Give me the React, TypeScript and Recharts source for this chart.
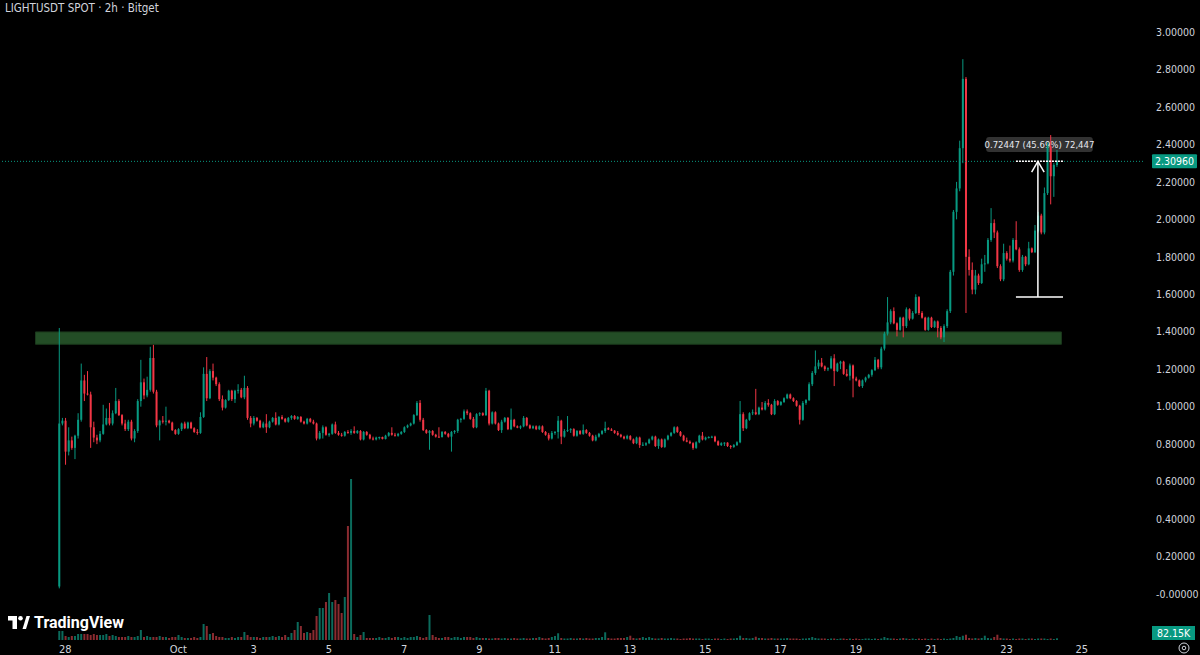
import React from 'react';
import {
    ComposedChart, Bar, XAxis, YAxis, ReferenceArea, ReferenceLine
} from 'recharts';

const UP = '#089981';
const DOWN = '#f23645';
const UP_VOL = '#0b6b5c';
const DOWN_VOL = '#8a2b30';
const TEXT = '#d1d4dc';
const FONT = "'Liberation Sans Narrow', 'DejaVu Sans Condensed', Roboto, sans-serif";

// 2h candles, [open, high, low, close]
const CANDLES: number[][] = [
    [0.04, 1.42, 0.03, 0.91], [0.91, 0.94, 0.90, 0.925], [0.925, 0.94, 0.69, 0.76], [0.76, 0.89, 0.74, 0.82],
    [0.82, 0.84, 0.77, 0.78], [0.78, 0.85, 0.72, 0.845], [0.845, 0.965, 0.83, 0.93], [0.93, 1.23, 0.92, 1.14],
    [1.14, 1.17, 1.03, 1.07], [1.07, 1.19, 1.06, 1.065], [1.065, 1.08, 0.78, 0.89], [0.89, 0.92, 0.81, 0.835],
    [0.835, 0.85, 0.80, 0.82], [0.82, 0.87, 0.81, 0.855], [0.855, 1.01, 0.85, 0.905], [0.905, 0.99, 0.90, 0.94],
    [0.94, 1.02, 0.90, 0.91], [0.91, 0.98, 0.90, 0.965], [0.965, 1.10, 0.96, 1.03], [1.03, 1.04, 0.95, 0.955],
    [0.955, 0.96, 0.90, 0.91], [0.91, 0.93, 0.87, 0.88], [0.88, 0.93, 0.87, 0.92], [0.92, 0.93, 0.82, 0.83],
    [0.83, 0.88, 0.81, 0.87], [0.87, 1.04, 0.86, 1.03], [1.03, 1.25, 1.00, 1.13], [1.13, 1.15, 1.04, 1.06],
    [1.06, 1.16, 1.05, 1.09], [1.09, 1.32, 1.08, 1.26], [1.26, 1.33, 1.07, 1.08], [1.08, 1.09, 0.89, 0.90],
    [0.90, 0.93, 0.82, 0.925], [0.925, 0.95, 0.91, 0.92], [0.92, 1.00, 0.90, 0.925], [0.925, 0.93, 0.91, 0.915],
    [0.915, 0.92, 0.87, 0.875], [0.875, 0.88, 0.85, 0.855], [0.855, 0.885, 0.85, 0.88], [0.88, 0.915, 0.87, 0.91],
    [0.91, 0.92, 0.88, 0.885], [0.885, 0.92, 0.88, 0.915], [0.915, 0.92, 0.88, 0.885], [0.885, 0.89, 0.86, 0.865],
    [0.865, 0.88, 0.85, 0.86], [0.86, 0.97, 0.855, 0.945], [0.945, 1.21, 0.94, 1.175], [1.175, 1.265, 1.03, 1.045],
    [1.045, 1.20, 1.04, 1.19], [1.19, 1.23, 1.14, 1.155], [1.155, 1.16, 1.11, 1.12], [1.12, 1.13, 1.03, 1.04],
    [1.04, 1.06, 0.98, 0.995], [0.995, 1.04, 0.99, 1.035], [1.035, 1.09, 1.03, 1.085],
    // Oct 2 - Oct 7
    [1.085, 1.09, 1.03, 1.04], [1.04, 1.09, 1.02, 1.085], [1.085, 1.12, 1.07, 1.09], [1.09, 1.10, 1.045, 1.05],
    [1.05, 1.165, 1.04, 1.10], [1.10, 1.11, 0.93, 0.94], [0.94, 0.95, 0.89, 0.91], [0.91, 0.95, 0.90, 0.94],
    [0.94, 0.945, 0.92, 0.925], [0.925, 0.93, 0.885, 0.89], [0.89, 0.92, 0.885, 0.91], [0.91, 0.96, 0.86, 0.89],
    [0.89, 0.925, 0.885, 0.92], [0.92, 0.945, 0.915, 0.94], [0.94, 0.97, 0.90, 0.905], [0.905, 0.95, 0.90, 0.945],
    [0.945, 0.955, 0.93, 0.935], [0.935, 0.94, 0.915, 0.92], [0.92, 0.945, 0.915, 0.94], [0.94, 0.955, 0.93, 0.95],
    [0.95, 0.955, 0.93, 0.935], [0.935, 0.95, 0.93, 0.945], [0.945, 0.95, 0.915, 0.92], [0.92, 0.925, 0.905, 0.91],
    [0.91, 0.94, 0.905, 0.935], [0.935, 0.94, 0.915, 0.92], [0.92, 0.93, 0.905, 0.91], [0.91, 0.915, 0.82, 0.83],
    [0.83, 0.87, 0.825, 0.86], [0.86, 0.90, 0.83, 0.89], [0.89, 0.895, 0.845, 0.85], [0.85, 0.86, 0.84, 0.855],
    [0.855, 0.91, 0.85, 0.905], [0.905, 0.92, 0.855, 0.86], [0.86, 0.87, 0.845, 0.85], [0.85, 0.86, 0.84, 0.845],
    [0.845, 0.87, 0.84, 0.865], [0.865, 0.875, 0.855, 0.86], [0.86, 0.88, 0.85, 0.87], [0.87, 0.895, 0.855, 0.86],
    [0.86, 0.875, 0.855, 0.87], [0.87, 0.875, 0.82, 0.825], [0.825, 0.87, 0.82, 0.865], [0.865, 0.87, 0.845, 0.85],
    [0.85, 0.855, 0.825, 0.83], [0.83, 0.84, 0.82, 0.825], [0.825, 0.84, 0.82, 0.835], [0.835, 0.84, 0.825, 0.838],
    [0.838, 0.84, 0.825, 0.828], [0.828, 0.85, 0.825, 0.845], [0.845, 0.865, 0.84, 0.86], [0.86, 0.89, 0.845, 0.85],
    [0.85, 0.86, 0.84, 0.845], [0.845, 0.86, 0.84, 0.855], [0.855, 0.87, 0.85, 0.865], [0.865, 0.895, 0.86, 0.89],
    [0.89, 0.905, 0.885, 0.90], [0.90, 0.915, 0.895, 0.91], [0.91, 0.96, 0.905, 0.955], [0.955, 1.03, 0.95, 1.02],
    [1.02, 1.035, 0.92, 0.93], [0.93, 0.94, 0.87, 0.875],
    // Oct 7 - Oct 13
    [0.875, 0.88, 0.855, 0.86], [0.86, 0.875, 0.77, 0.87], [0.87, 0.875, 0.845, 0.85], [0.85, 0.855, 0.835, 0.84],
    [0.84, 0.89, 0.835, 0.838], [0.838, 0.87, 0.835, 0.865], [0.865, 0.87, 0.85, 0.855], [0.855, 0.86, 0.835, 0.84],
    [0.84, 0.87, 0.76, 0.865], [0.865, 0.875, 0.855, 0.87], [0.87, 0.935, 0.86, 0.93], [0.93, 0.94, 0.915, 0.935],
    [0.935, 0.985, 0.93, 0.975], [0.975, 0.985, 0.955, 0.965], [0.965, 0.97, 0.93, 0.935], [0.935, 0.945, 0.885, 0.89],
    [0.89, 0.965, 0.885, 0.96], [0.96, 0.97, 0.95, 0.965], [0.965, 0.97, 0.95, 0.955], [0.955, 1.10, 0.95, 1.085],
    [1.085, 1.09, 0.90, 0.91], [0.91, 0.975, 0.905, 0.97], [0.97, 0.975, 0.905, 0.91], [0.91, 0.915, 0.87, 0.875],
    [0.875, 0.93, 0.86, 0.92], [0.92, 0.945, 0.915, 0.94], [0.94, 0.945, 0.875, 0.88], [0.88, 0.99, 0.875, 0.93],
    [0.93, 0.935, 0.89, 0.895], [0.895, 0.90, 0.885, 0.888], [0.888, 0.90, 0.88, 0.895], [0.895, 0.95, 0.89, 0.94],
    [0.94, 0.945, 0.895, 0.90], [0.90, 0.905, 0.88, 0.885], [0.885, 0.90, 0.88, 0.895], [0.895, 0.90, 0.875, 0.88],
    [0.88, 0.90, 0.875, 0.895], [0.895, 0.90, 0.86, 0.865], [0.865, 0.87, 0.845, 0.85], [0.85, 0.86, 0.82, 0.83],
    [0.83, 0.87, 0.825, 0.86], [0.86, 0.87, 0.85, 0.865], [0.865, 0.95, 0.83, 0.925], [0.925, 0.93, 0.80, 0.84],
    [0.84, 0.88, 0.835, 0.87], [0.87, 0.95, 0.865, 0.875], [0.875, 0.885, 0.86, 0.88], [0.88, 0.885, 0.84, 0.845],
    [0.845, 0.875, 0.84, 0.87], [0.87, 0.875, 0.85, 0.855], [0.855, 0.905, 0.85, 0.875], [0.875, 0.88, 0.855, 0.86],
    [0.86, 0.865, 0.84, 0.845], [0.845, 0.85, 0.815, 0.82], [0.82, 0.85, 0.815, 0.84], [0.84, 0.86, 0.835, 0.855],
    [0.855, 0.875, 0.85, 0.87], [0.87, 0.92, 0.86, 0.885], [0.885, 0.89, 0.875, 0.878], [0.878, 0.885, 0.87, 0.872],
    [0.872, 0.875, 0.855, 0.86], [0.86, 0.87, 0.845, 0.85], [0.85, 0.855, 0.835, 0.84],
    // Oct 13 - Oct 18
    [0.84, 0.845, 0.825, 0.83], [0.83, 0.85, 0.825, 0.843], [0.843, 0.848, 0.82, 0.825], [0.825, 0.83, 0.80, 0.805],
    [0.805, 0.84, 0.80, 0.835], [0.835, 0.84, 0.78, 0.795], [0.795, 0.81, 0.79, 0.797], [0.797, 0.81, 0.79, 0.805],
    [0.805, 0.83, 0.80, 0.825], [0.825, 0.845, 0.82, 0.84], [0.84, 0.845, 0.785, 0.79], [0.79, 0.83, 0.775, 0.825],
    [0.825, 0.83, 0.78, 0.785], [0.785, 0.83, 0.78, 0.825], [0.825, 0.85, 0.82, 0.845], [0.845, 0.865, 0.84, 0.86],
    [0.86, 0.895, 0.855, 0.89], [0.89, 0.895, 0.86, 0.865], [0.865, 0.87, 0.84, 0.845], [0.845, 0.85, 0.815, 0.82],
    [0.82, 0.835, 0.81, 0.813], [0.813, 0.82, 0.80, 0.805], [0.805, 0.81, 0.77, 0.78], [0.78, 0.815, 0.775, 0.81],
    [0.81, 0.85, 0.805, 0.845], [0.845, 0.865, 0.82, 0.825], [0.825, 0.84, 0.82, 0.835], [0.835, 0.842, 0.83, 0.838],
    [0.838, 0.845, 0.832, 0.84], [0.84, 0.845, 0.81, 0.815], [0.815, 0.82, 0.79, 0.795], [0.795, 0.81, 0.79, 0.805],
    [0.805, 0.81, 0.79, 0.808], [0.808, 0.81, 0.785, 0.79], [0.79, 0.795, 0.775, 0.785], [0.785, 0.80, 0.78, 0.795],
    [0.795, 0.815, 0.79, 0.81], [0.81, 1.03, 0.805, 0.96], [0.96, 0.97, 0.87, 0.885], [0.885, 0.935, 0.88, 0.93],
    [0.93, 0.97, 0.925, 0.965], [0.965, 0.985, 0.955, 0.97], [0.97, 1.095, 0.955, 0.96], [0.96, 1.00, 0.955, 0.995],
    [0.995, 1.025, 0.98, 0.985], [0.985, 1.03, 0.98, 1.02], [1.02, 1.04, 1.00, 1.01], [1.01, 1.015, 0.955, 0.96],
    [0.96, 1.04, 0.955, 1.03], [1.03, 1.035, 1.005, 1.01], [1.01, 1.03, 1.005, 1.025], [1.025, 1.05, 1.02, 1.045],
    [1.045, 1.07, 1.04, 1.065], [1.065, 1.07, 1.04, 1.045], [1.045, 1.05, 1.025, 1.03], [1.03, 1.035, 1.00, 1.005],
    [1.005, 1.01, 0.905, 0.93], [0.93, 1.03, 0.925, 1.02], [1.02, 1.04, 1.01, 1.035], [1.035, 1.13, 1.03, 1.12],
    [1.12, 1.19, 1.11, 1.18], [1.18, 1.30, 1.17, 1.215], [1.215, 1.25, 1.20, 1.235], [1.235, 1.26, 1.21, 1.215],
    [1.215, 1.22, 1.19, 1.20],
    // Oct 18 - Oct 21
    [1.20, 1.21, 1.19, 1.205], [1.205, 1.27, 1.20, 1.258], [1.258, 1.28, 1.11, 1.19], [1.19, 1.235, 1.185, 1.23],
    [1.23, 1.245, 1.20, 1.24], [1.24, 1.245, 1.17, 1.175], [1.175, 1.20, 1.16, 1.165], [1.165, 1.23, 1.14, 1.22],
    [1.22, 1.225, 1.05, 1.15], [1.15, 1.16, 1.135, 1.14], [1.14, 1.145, 1.105, 1.11], [1.11, 1.145, 1.10, 1.14],
    [1.14, 1.16, 1.13, 1.155], [1.155, 1.175, 1.15, 1.17], [1.17, 1.20, 1.16, 1.195], [1.195, 1.265, 1.19, 1.25],
    [1.25, 1.255, 1.20, 1.21], [1.21, 1.32, 1.20, 1.31], [1.31, 1.40, 1.30, 1.39], [1.39, 1.585, 1.38, 1.45],
    [1.45, 1.52, 1.44, 1.51], [1.51, 1.53, 1.44, 1.445], [1.445, 1.45, 1.375, 1.41], [1.41, 1.48, 1.405, 1.475],
    [1.475, 1.48, 1.37, 1.43], [1.43, 1.53, 1.42, 1.52], [1.52, 1.525, 1.46, 1.47], [1.47, 1.51, 1.465, 1.50],
    [1.50, 1.60, 1.495, 1.585], [1.585, 1.59, 1.49, 1.50], [1.50, 1.51, 1.47, 1.475], [1.475, 1.48, 1.405, 1.41],
    [1.41, 1.48, 1.405, 1.475], [1.475, 1.48, 1.42, 1.425], [1.425, 1.46, 1.42, 1.455], [1.455, 1.46, 1.37, 1.42],
    [1.42, 1.43, 1.36, 1.37], [1.37, 1.44, 1.345, 1.43], [1.43, 1.52, 1.42, 1.51],
    // Oct 21 - Oct 24
    [1.51, 1.73, 1.50, 1.72], [1.72, 2.05, 1.70, 2.04], [2.04, 2.20, 2.00, 2.165], [2.165, 2.42, 2.15, 2.38],
    [2.38, 2.855, 2.30, 2.75], [2.75, 2.76, 1.50, 1.80], [1.80, 1.84, 1.70, 1.73], [1.73, 1.77, 1.60, 1.625],
    [1.625, 1.73, 1.60, 1.70], [1.70, 1.71, 1.65, 1.66], [1.66, 1.79, 1.655, 1.76], [1.76, 1.81, 1.72, 1.765],
    [1.765, 1.90, 1.76, 1.89], [1.89, 2.06, 1.88, 1.98], [1.98, 2.00, 1.90, 1.93], [1.93, 1.94, 1.74, 1.75],
    [1.75, 1.76, 1.67, 1.68], [1.68, 1.87, 1.67, 1.82], [1.82, 1.83, 1.78, 1.79], [1.79, 1.86, 1.77, 1.78],
    [1.78, 1.90, 1.77, 1.89], [1.89, 1.99, 1.835, 1.84], [1.84, 1.85, 1.72, 1.73], [1.73, 1.81, 1.72, 1.80],
    [1.80, 1.805, 1.75, 1.76], [1.76, 1.88, 1.755, 1.845], [1.845, 1.85, 1.82, 1.825], [1.825, 1.97, 1.82, 1.94],
    [1.94, 2.04, 1.93, 2.02], [2.02, 2.03, 1.92, 1.93], [1.93, 2.17, 1.92, 2.14], [2.14, 2.41, 2.13, 2.39],
    [2.39, 2.45, 2.08, 2.23], [2.23, 2.30, 2.12, 2.29], [2.29, 2.37, 2.28, 2.3096],
];

// volume per candle, in thousands
const VOLUME: number[] = [
    126, 126, 56, 42, 56, 56, 84, 84, 84, 84, 70, 84, 70, 70, 70, 84, 56, 70, 56, 42,
    42, 42, 56, 42, 42, 56, 140, 42, 56, 42, 42, 42, 56, 42, 42, 28, 42, 42, 70, 42,
    28, 28, 28, 42, 28, 42, 224, 196, 84, 98, 56, 42, 42, 28, 28, 42, 28, 42, 42, 112,
    70, 42, 42, 42, 28, 42, 42, 42, 56, 42, 56, 42, 70, 42, 98, 140, 252, 196, 98, 112,
    98, 140, 336, 448, 448, 532, 658, 532, 560, 504, 378, 602, 1596, 2254, 84, 42, 70, 112, 28, 28,
    28, 28, 42, 28, 28, 42, 28, 42, 42, 28, 42, 28, 42, 42, 56, 42, 28, 42, 350, 70,
    42, 28, 28, 42, 42, 28, 42, 42, 28, 42, 42, 42, 28, 42, 28, 28, 28, 21, 21, 28,
    28, 21, 28, 21, 21, 28, 21, 21, 28, 21, 21, 28, 28, 42, 28, 21, 28, 42, 56, 94,
    28, 21, 21, 28, 21, 21, 28, 21, 28, 21, 21, 28, 28, 42, 108, 28, 21, 21, 28, 28,
    28, 42, 60, 28, 21, 28, 42, 28, 42, 28, 21, 21, 28, 21, 21, 28, 21, 21, 14, 21,
    21, 28, 21, 21, 21, 14, 21, 21, 14, 21, 21, 14, 21, 14, 21, 21, 28, 60, 28, 28,
    21, 28, 46, 28, 28, 21, 21, 28, 21, 21, 21, 21, 28, 21, 21, 21, 14, 21, 21, 28,
    42, 28, 21, 21, 21, 14, 21, 21, 14, 21, 21, 14, 21, 14, 21, 14, 14, 21, 21, 14,
    21, 14, 21, 42, 28, 21, 21, 14, 21, 28, 21, 14, 21, 14, 21, 14, 21, 14, 21, 14,
    21, 14, 21, 14, 21, 28, 56, 42, 60, 74, 28, 21, 28, 21, 28, 60, 28, 21, 42, 74,
    28, 21, 21, 14, 21, 14, 21, 21, 14, 21, 21, 14, 21, 21, 21, 14, 21, 14, 24,
];

// day ticks, counted in days from Sep 28
const DAY_OFFSETS = [0, 3, 5, 7, 9, 11, 13, 15, 17, 19, 21, 23, 25, 27];
const DAY_LABELS = ['28', 'Oct', '3', '5', '7', '9', '11', '13', '15', '17', '19', '21', '23', '25'];
const PRICE_TICKS = [0, 0.2, 0.4, 0.6, 0.8, 1.0, 1.2, 1.4, 1.6, 1.8, 2.0, 2.2, 2.4, 2.6, 2.8, 3.0];

const LAST_PRICE = 2.3096;
const MEASURE_LOW = 1.58513;
const MEASURE_TEXT = '0.72447 (45.69%) 72,447';
const ZONE_LOW = 1.333;
const ZONE_HIGH = 1.399;

// empty slots before the first candle and total slots across the pane
const LEAD = 18;
const SLOTS = 364;

const rows = Array.from({ length: SLOTS }, (_, i) => {
    const k = CANDLES[i - LEAD];
    return k ? { i, o: k[0], h: k[1], l: k[2], c: k[3], vol: VOLUME[i - LEAD] } : { i };
});

const dayTicks = DAY_OFFSETS.map(d => LEAD + 2 + 12 * d);
const dayLabel = (v: number) => DAY_LABELS[dayTicks.indexOf(v)] ?? '';

const Candle = (props: any) => {
    const { x, y, width, height, payload } = props;
    if (payload == null || payload.o == null) return null;
    const { o, h, l, c } = payload;
    const top = Math.min(y, y + height);
    const span = Math.abs(height);
    const cx = x + width / 2;
    const k = h > l ? span / (h - l) : 0;
    const bTop = top + (h - Math.max(o, c)) * k;
    const bBot = top + (h - Math.min(o, c)) * k;
    const col = c >= o ? UP : DOWN;
    return (
        <g>
            <line x1={cx} x2={cx} y1={top} y2={top + span} stroke={col} strokeWidth={1} />
            <rect x={cx - 1} y={bTop} width={2} height={Math.max(bBot - bTop, 1)} fill={col} />
        </g>
    );
};

const VolBar = (props: any) => {
    const { x, y, width, height, payload } = props;
    if (payload == null || payload.vol == null) return null;
    const col = payload.c >= payload.o ? UP_VOL : DOWN_VOL;
    return <rect x={x + width / 2 - 1} y={Math.min(y, y + height)} width={2} height={Math.abs(height)} fill={col} />;
};

const PriceTag = ({ viewBox, text }: any) => {
    const left = viewBox.x + viewBox.width + 9;
    return (
        <g>
            <rect x={left} y={viewBox.y - 7} width={45} height={14} fill={UP} rx={1} />
            <text x={left + 22.5} y={viewBox.y} dy="0.36em" textAnchor="middle" fill="#ffffff"
                fontSize={10.5} fontFamily={FONT}>{text}</text>
        </g>
    );
};

const BoxText = ({ viewBox, text }: any) => (
    <text x={viewBox.x + viewBox.width / 2} y={viewBox.y + viewBox.height / 2} dy="0.36em"
        textAnchor="middle" fill="#e6e8ee" fontSize={9.5} fontFamily={FONT}>{text}</text>
);

const mx = LEAD + 312;
const white = { stroke: '#ffffff', strokeWidth: 1.5 };

export default function App() {
    return (
        <div style={{ position: 'fixed', left: 0, top: 0, width: 1200, height: 655, background: '#000000', overflow: 'hidden' }}>
            <ComposedChart width={1200} height={655} data={rows} margin={{ top: 0, right: 0, bottom: 0, left: 1 }}>
                <XAxis xAxisId="a" dataKey="i" ticks={dayTicks} interval={0} tickFormatter={dayLabel}
                    axisLine={false} tickLine={false} tickSize={0} tickMargin={5} height={15}
                    tick={{ fill: TEXT, fontSize: 11, fontFamily: FONT }} />
                <XAxis xAxisId="b" dataKey="i" hide />
                <YAxis yAxisId="p" orientation="right" width={57} domain={[-0.2456, 3.171]} allowDataOverflow
                    ticks={PRICE_TICKS} interval={0} axisLine={false} tickLine={false} tickSize={0} tickMargin={13}
                    tickFormatter={(v: number) => (v === 0 ? '-0.00000' : v.toFixed(5))}
                    tick={{ fill: TEXT, fontSize: 10.5, fontFamily: FONT }} />
                <YAxis yAxisId="v" hide domain={[0, 8960]} allowDataOverflow />

                {/* support zone */}
                <ReferenceArea xAxisId="a" yAxisId="p" x1={11} x2={337} y1={ZONE_LOW} y2={ZONE_HIGH}
                    fill="#234d26" fillOpacity={1} stroke="#1a381c" ifOverflow="visible" />
                {/* measure label */}
                <ReferenceArea xAxisId="a" yAxisId="p" x1={LEAD + 296} x2={LEAD + 329} y1={2.36} y2={2.44}
                    fill="#323232" fillOpacity={1} radius={3} label={<BoxText text={MEASURE_TEXT} />} />

                <Bar xAxisId="b" yAxisId="v" dataKey="vol" shape={<VolBar />} isAnimationActive={false} />
                <Bar xAxisId="a" yAxisId="p" dataKey={(d: any) => (d.h != null ? [d.l, d.h] : null)}
                    shape={<Candle />} isAnimationActive={false} />

                <ReferenceLine xAxisId="a" yAxisId="p" y={LAST_PRICE} stroke={UP} strokeDasharray="1 2"
                    label={<PriceTag text="2.30960" />} />
                {/* measure tool */}
                <ReferenceLine xAxisId="a" yAxisId="p" {...white}
                    segment={[{ x: mx, y: LAST_PRICE }, { x: mx, y: MEASURE_LOW }]} />
                <ReferenceLine xAxisId="a" yAxisId="p" {...white}
                    segment={[{ x: mx - 7, y: MEASURE_LOW }, { x: mx + 8, y: MEASURE_LOW }]} />
                <ReferenceLine xAxisId="a" yAxisId="p" {...white} strokeDasharray="2 1"
                    segment={[{ x: mx - 7, y: LAST_PRICE }, { x: mx + 8, y: LAST_PRICE }]} />
                <ReferenceLine xAxisId="a" yAxisId="p" {...white}
                    segment={[{ x: mx - 2, y: 2.2527 }, { x: mx, y: LAST_PRICE }]} />
                <ReferenceLine xAxisId="a" yAxisId="p" {...white}
                    segment={[{ x: mx + 2, y: 2.2527 }, { x: mx, y: LAST_PRICE }]} />
            </ComposedChart>

            <div style={{ position: 'absolute', left: 5, top: 1, color: TEXT, fontFamily: FONT, fontSize: 11.5 }}>
                LIGHTUSDT SPOT · 2h · Bitget
            </div>

            <div style={{ position: 'absolute', left: 8, top: 613, display: 'flex', alignItems: 'center' }}>
                <svg width={22} height={14} viewBox="0 0 22 14">
                    <path d="M0 0h9v13h-4.5v-8.5h-4.5z" fill="#ffffff" />
                    <circle cx={12.5} cy={2.3} r={2.3} fill="#ffffff" />
                    <path d="M14.5 13 L18.5 0 H22 L18 13 Z" fill="#ffffff" />
                </svg>
                <span style={{ marginLeft: 4, color: '#ffffff', fontFamily: 'Roboto, sans-serif', fontWeight: 700, fontSize: 16 }}>
                    TradingView
                </span>
            </div>

            <div style={{
                position: 'absolute', left: 1152, top: 626, width: 43, height: 14, background: UP,
                color: '#ffffff', fontFamily: FONT, fontSize: 10.5, lineHeight: '14px', textAlign: 'center'
            }}>82.15K</div>
            <svg style={{ position: 'absolute', left: 1178, top: 642 }} width={12} height={12}>
                <circle cx={6} cy={6} r={5} fill="none" stroke={TEXT} strokeWidth={1} />
                <circle cx={6} cy={6} r={1.8} fill="none" stroke={TEXT} strokeWidth={1} />
            </svg>
        </div>
    );
}
